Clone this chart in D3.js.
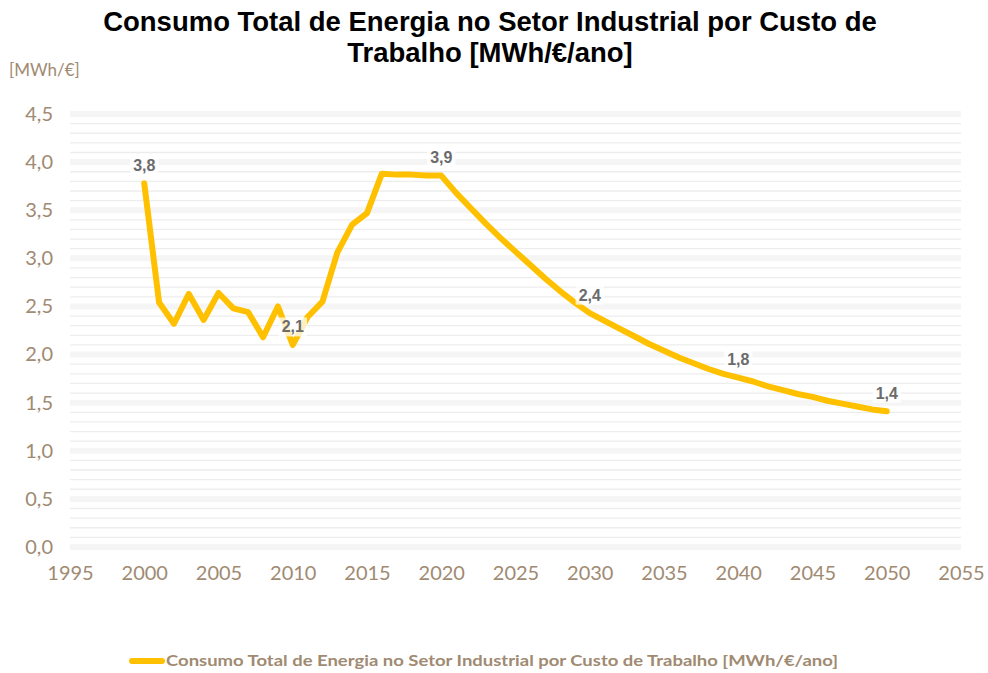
<!DOCTYPE html>
<html>
<head>
<meta charset="utf-8">
<script src="https://cdn.jsdelivr.net/npm/d3@7"></script>
<style>
  html, body { margin: 0; padding: 0; background: #ffffff; }
  svg { display: block; }
</style>
</head>
<body>
<svg id="chart" width="988" height="673"></svg>
<script>
// Série anual: consumo total de energia no setor industrial por custo de trabalho
const years = [2000, 2001, 2002, 2003, 2004, 2005, 2006, 2007, 2008, 2009,
               2010, 2011, 2012, 2013, 2014, 2015, 2016, 2017, 2018, 2019,
               2020, 2021, 2022, 2023, 2024, 2025, 2026, 2027, 2028, 2029,
               2030, 2031, 2032, 2033, 2034, 2035, 2036, 2037, 2038, 2039,
               2040, 2041, 2042, 2043, 2044, 2045, 2046, 2047, 2048, 2049, 2050];
const values = [3.78, 2.54, 2.32, 2.63, 2.36, 2.64, 2.48, 2.44, 2.18, 2.50,
                2.10, 2.39, 2.55, 3.06, 3.35, 3.47, 3.88, 3.87, 3.87, 3.86,
                3.86, 3.68, 3.52, 3.36, 3.21, 3.07, 2.93, 2.79, 2.66, 2.54,
                2.43, 2.35, 2.27, 2.19, 2.11, 2.04, 1.97, 1.91, 1.85, 1.80,
                1.76, 1.72, 1.67, 1.63, 1.59, 1.56, 1.52, 1.49, 1.46, 1.43, 1.41];
// Anos com rótulo de valor
const labelYears = [2000, 2010, 2020, 2030, 2040, 2050];
const xTicks = [1995, 2000, 2005, 2010, 2015, 2020, 2025, 2030, 2035, 2040, 2045, 2050, 2055];
const yTicks = [0, 0.5, 1.0, 1.5, 2.0, 2.5, 3.0, 3.5, 4.0, 4.5];
const titleLines = ["Consumo Total de Energia no Setor Industrial por Custo de", "Trabalho [MWh/€/ano]"];
const unitLabel = "[MWh/€]";
const seriesName = "Consumo Total de Energia no Setor Industrial por Custo de Trabalho [MWh/€/ano]";

const svg = d3.select("#chart");
const axisColor = "#a08a72";
const lineColor = "#ffc000";
const axisFont = "Lato, 'DejaVu Sans', sans-serif";
const fmt = v => d3.format(".1f")(v).replace(".", ",");

const x = d3.scaleLinear().domain([1995, 2055]).range([70, 961]);
const y = d3.scaleLinear().domain([0, 4.5]).range([547, 114]);

// Grelha: linhas menores a cada 0,1 e faixas maiores a cada 0,5
const minor = d3.range(0, 46).map(i => i / 10).filter(v => Math.round(v * 10) % 5 !== 0);
svg.append("g").selectAll("line").data(minor).join("line")
  .attr("x1", x(1995)).attr("x2", x(2055))
  .attr("y1", d => y(d)).attr("y2", d => y(d))
  .attr("stroke", "#ededed").attr("stroke-width", 1.3);
svg.append("g").selectAll("line").data(yTicks).join("line")
  .attr("x1", x(1995)).attr("x2", x(2055))
  .attr("y1", d => y(d)).attr("y2", d => y(d))
  .attr("stroke", "#f5f5f5").attr("stroke-width", 6);

// Eixo Y
const yAxis = svg.append("g").attr("transform", "translate(57,0)")
  .call(d3.axisLeft(y).tickValues(yTicks).tickFormat(fmt).tickSize(0).tickPadding(4));
yAxis.select(".domain").remove();
yAxis.selectAll("text").attr("fill", axisColor)
  .style("font-family", axisFont).style("font-size", "20px");

// Eixo X
const xAxis = svg.append("g").attr("transform", "translate(0,564)")
  .call(d3.axisBottom(x).tickValues(xTicks).tickFormat(d3.format("d")).tickSize(0).tickPadding(2));
xAxis.select(".domain").remove();
xAxis.selectAll("text").attr("fill", axisColor)
  .style("font-family", axisFont).style("font-size", "20px");

// Unidade do eixo Y
svg.append("text").attr("x", 9).attr("y", 76).text(unitLabel)
  .attr("fill", axisColor).style("font-family", axisFont).style("font-size", "17px");

// Linha da série
const data = years.map((yr, i) => ({ year: yr, value: values[i] }));
const line = d3.line().x(d => x(d.year)).y(d => y(d.value));
svg.append("path").datum(data).attr("d", line)
  .attr("fill", "none").attr("stroke", lineColor).attr("stroke-width", 6)
  .attr("stroke-linejoin", "round").attr("stroke-linecap", "round");

// Rótulos de valor com caixa branca translúcida
const lbl = svg.append("g");
data.filter(d => labelYears.includes(d.year)).forEach(d => {
  const g = lbl.append("g").attr("transform", `translate(${x(d.year)},${y(d.value) - 18})`);
  const t = g.append("text").text(fmt(d.value))
    .attr("text-anchor", "middle").attr("dominant-baseline", "central")
    .attr("fill", "#6b6b6b")
    .style("font-family", "'Liberation Sans', Arial, sans-serif")
    .style("font-weight", "bold").style("font-size", "16px");
  const b = t.node().getBBox();
  g.insert("rect", "text")
    .attr("x", b.x - 3).attr("y", b.y - 1).attr("width", b.width + 6).attr("height", b.height + 2)
    .attr("fill", "#ffffff").attr("fill-opacity", 0.75);
});

// Título (ajustado à largura da primeira linha)
const title = svg.append("g");
const tl = title.selectAll("text").data(titleLines).join("text")
  .attr("text-anchor", "middle").text(d => d)
  .attr("fill", "#000000")
  .style("font-family", "'Liberation Sans', Arial, sans-serif")
  .style("font-weight", "bold").style("font-size", "27px");
const w0 = tl.nodes()[0].getComputedTextLength();
const sx = 774 / w0;
tl.attr("transform", (d, i) => `translate(490,${31 + i * 31}) scale(${sx},1)`);

// Legenda
const leg = svg.append("g");
leg.append("line").attr("x1", 132).attr("x2", 162).attr("y1", 661).attr("y2", 661)
  .attr("stroke", lineColor).attr("stroke-width", 6).attr("stroke-linecap", "round");
leg.append("text").attr("x", 166).attr("y", 666).text(seriesName)
  .attr("fill", axisColor).attr("textLength", 672).attr("lengthAdjust", "spacingAndGlyphs")
  .style("font-family", axisFont)
  .style("font-weight", "bold").style("font-size", "15px");
</script>
</body>
</html>
